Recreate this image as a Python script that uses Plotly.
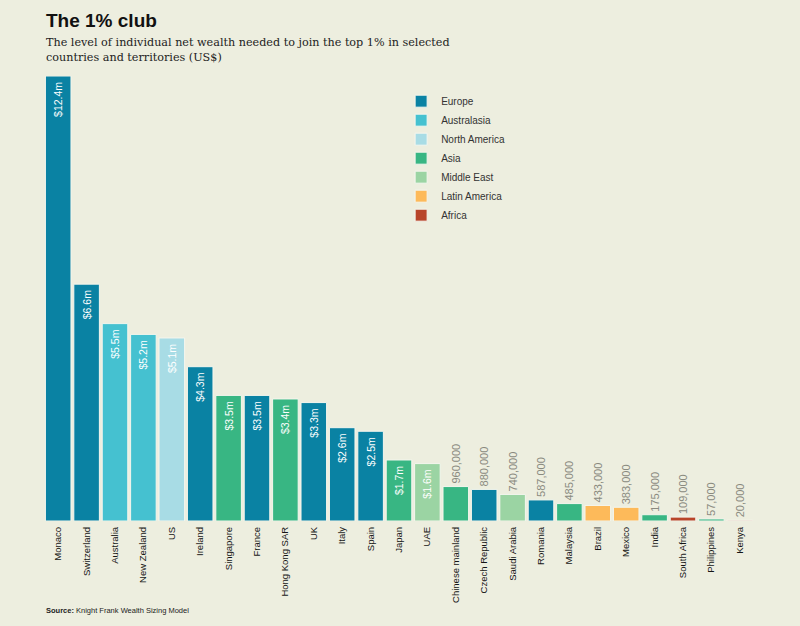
import plotly.graph_objects as go

countries = ["Monaco", "Switzerland", "Australia", "New Zealand", "US", "Ireland",
             "Singapore", "France", "Hong Kong SAR", "UK", "Italy", "Spain", "Japan",
             "UAE", "Chinese mainland", "Czech Republic", "Saudi Arabia", "Romania",
             "Malaysia", "Brazil", "Mexico", "India", "South Africa", "Philippines", "Kenya"]
values_usd_m = [12.4, 6.6, 5.5, 5.2, 5.1, 4.3, 3.5, 3.5, 3.4, 3.3, 2.6, 2.5, 1.7,
                1.6, 0.96, 0.88, 0.74, 0.587, 0.485, 0.433, 0.383, 0.175, 0.109, 0.057, 0.020]
value_labels = ["$12.4m", "$6.6m", "$5.5m", "$5.2m", "$5.1m", "$4.3m", "$3.5m", "$3.5m",
                "$3.4m", "$3.3m", "$2.6m", "$2.5m", "$1.7m", "$1.6m", "960,000", "880,000",
                "740,000", "587,000", "485,000", "433,000", "383,000", "175,000", "109,000",
                "57,000", "20,000"]
regions = ["Europe", "Europe", "Australasia", "Australasia", "North America", "Europe",
           "Asia", "Europe", "Asia", "Europe", "Europe", "Europe", "Asia",
           "Middle East", "Asia", "Europe", "Middle East", "Europe",
           "Asia", "Latin America", "Latin America", "Asia", "Africa", "Asia", "Africa"]
region_order = ["Europe", "Australasia", "North America", "Asia", "Middle East",
                "Latin America", "Africa"]
region_colors = {"Europe": "#0a82a3", "Australasia": "#45c1d0", "North America": "#a8dce5",
                 "Asia": "#38b683", "Middle East": "#9bd4a3", "Latin America": "#fdba5a",
                 "Africa": "#b8452a"}

BG = "#edeedf"
fig = go.Figure()
for reg in region_order:
    idx = [i for i, r in enumerate(regions) if r == reg]
    xs = [countries[i] for i in idx]
    ys = [values_usd_m[i] for i in idx]
    inside = [values_usd_m[i] >= 1.5 for i in idx]
    ts = [value_labels[i] + ("&nbsp;" if ins else "") for i, ins in zip(idx, inside)]
    pos = ["inside" if ins else "outside" for ins in inside]
    fig.add_trace(go.Bar(
        x=xs, y=ys, name=reg, text=ts, textposition=pos, textangle=-90,
        insidetextanchor="end", cliponaxis=False, constraintext="none",
        insidetextfont=dict(color="white", size=10.5, family="Liberation Sans"),
        outsidetextfont=dict(color="#8a8a80", size=11, family="Liberation Sans"),
        marker=dict(color=region_colors[reg], line=dict(color="#f4f6ee", width=1)),
    ))

fig.update_layout(
    width=800, height=626,
    paper_bgcolor=BG, plot_bgcolor=BG,
    barmode="relative", bargap=0.1,
    margin=dict(l=44, r=46, t=76, b=105),
    showlegend=True,
    legend=dict(x=0.503, y=0.976, xanchor="left", yanchor="top",
                font=dict(size=10, color="#333333", family="Liberation Sans"),
                bgcolor="rgba(0,0,0,0)", tracegroupgap=0, itemwidth=30),
    xaxis=dict(categoryorder="array", categoryarray=countries, tickangle=-90,
               showgrid=False, showline=False, ticks="", ticklabelstandoff=3,
               tickfont=dict(size=9.5, color="#151515", family="Liberation Sans")),
    yaxis=dict(range=[0, 12.4], visible=False, showgrid=False),
    font=dict(family="Liberation Sans"),
)

fig.add_annotation(xref="paper", yref="paper", x=0, y=1 + 56 / 445,
                   text="<b>The 1% club</b>", showarrow=False, xanchor="left", yanchor="middle",
                   font=dict(size=19, color="#111111", family="Liberation Sans"))
fig.add_annotation(xref="paper", yref="paper", x=0, y=1 + 26 / 445,
                   text="The level of individual net wealth needed to join the top 1% in selected<br>countries and territories (US$)",
                   showarrow=False, xanchor="left", yanchor="middle", align="left",
                   font=dict(size=11.2, color="#222222", family="DejaVu Serif"))
fig.add_annotation(xref="paper", yref="paper", x=0, y=-89 / 445,
                   text="<b>Source:</b> Knight Frank Wealth Sizing Model",
                   showarrow=False, xanchor="left", yanchor="middle",
                   font=dict(size=7.5, color="#222222", family="Liberation Sans"))

fig.write_html("out.html", config={"displayModeBar": False},
               post_script="document.body.style.margin='0';")
